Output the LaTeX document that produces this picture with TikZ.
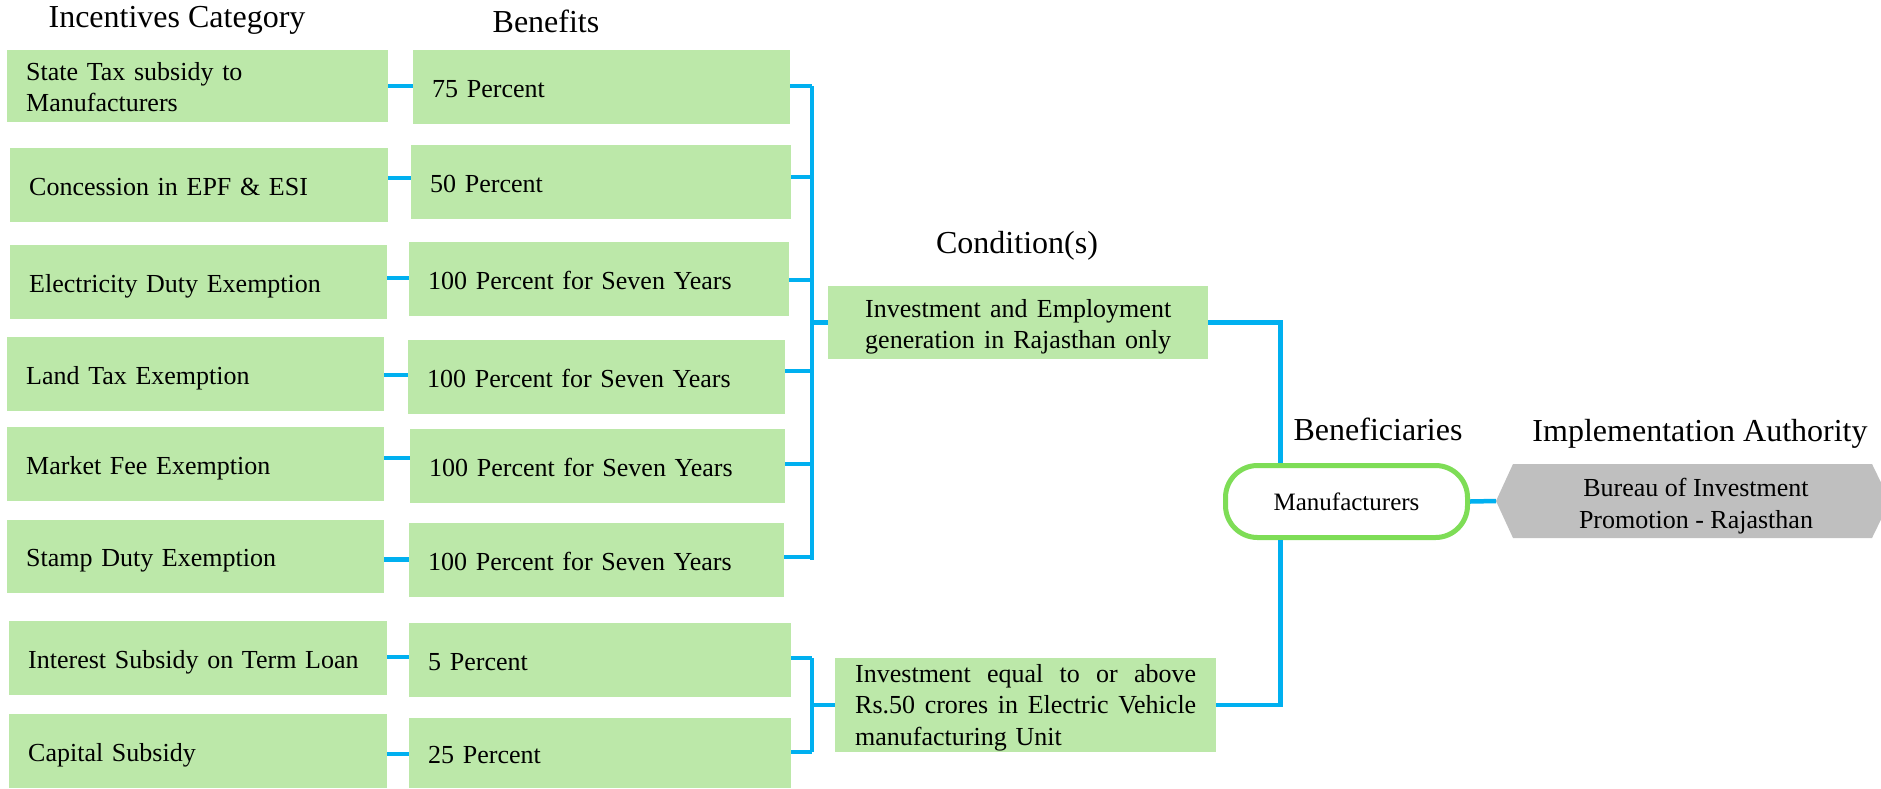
\documentclass[tikz,border=0pt]{standalone}
\usepackage{fontspec}
\setmainfont{Liberation Serif}
\definecolor{boxg}{RGB}{188,232,169}
\definecolor{lnk}{RGB}{0,176,240}
\definecolor{mgreen}{RGB}{126,221,86}
\definecolor{hexg}{RGB}{191,191,191}
\newcommand{\jline}[2]{\leavevmode\hbox to #1{#2}}
\begin{document}
\begin{tikzpicture}[x=1pt,y=-1pt,
  box/.style={fill=boxg, anchor=north west, inner xsep=19pt, inner ysep=0pt, align=left,
    font=\fontsize{26}{31.7}\selectfont},
  one/.style={text height=21pt, text depth=1pt},
  ttl/.style={anchor=base, font=\fontsize{32}{38}\selectfont},
  lk/.style={draw=lnk, line width=4.5pt}]
\useasboundingbox (0,0) rectangle (1881,788);
% titles
\node[ttl] (t1) at (177,27) {Incentives Category};
\node[ttl] (t2) at (546,32) {Benefits};
\node[ttl] (t3) at (1017,253) {Condition(s)};
\node[ttl] (t4) at (1378,440) {Beneficiaries};
\node[ttl] (t5) at (1700,441) {Implementation Authority};
% column 1
\node[box, text height=20pt, text depth=32pt, minimum width=381pt, minimum height=72pt, text width=343pt] (a1) at (7,50) {State Tax subsidy to\\Manufacturers};
\node[box, one, minimum width=378pt, minimum height=74pt, text width=340pt] (a2) at (10,148) {Concession in EPF \& ESI};
\node[box, one, minimum width=377pt, minimum height=74pt, text width=339pt] (a3) at (10,245) {Electricity Duty Exemption};
\node[box, one, minimum width=377pt, minimum height=74pt, text width=339pt] (a4) at (7,337) {Land Tax Exemption};
\node[box, one, minimum width=377pt, minimum height=74pt, text width=339pt] (a5) at (7,427) {Market Fee Exemption};
\node[box, one, minimum width=377pt, minimum height=73pt, text width=339pt] (a6) at (7,520) {Stamp Duty Exemption};
\node[box, one, minimum width=378pt, minimum height=74pt, text width=340pt] (a7) at (9,621) {Interest Subsidy on Term Loan};
\node[box, one, minimum width=378pt, minimum height=74pt, text width=340pt] (a8) at (9,714) {Capital Subsidy};
% column 2
\node[box, one, minimum width=377pt, minimum height=74pt, text width=339pt] (b1) at (413,50) {75 Percent};
\node[box, one, minimum width=380pt, minimum height=74pt, text width=342pt] (b2) at (411,145) {50 Percent};
\node[box, one, minimum width=380pt, minimum height=74pt, text width=342pt] (b3) at (409,242) {100 Percent for Seven Years};
\node[box, one, minimum width=377pt, minimum height=74pt, text width=339pt] (b4) at (408,340) {100 Percent for Seven Years};
\node[box, one, minimum width=375pt, minimum height=74pt, text width=337pt] (b5) at (410,429) {100 Percent for Seven Years};
\node[box, one, minimum width=375pt, minimum height=74pt, text width=337pt] (b6) at (409,523) {100 Percent for Seven Years};
\node[box, one, minimum width=382pt, minimum height=74pt, text width=344pt] (b7) at (409,623) {5 Percent};
\node[box, one, minimum width=382pt, minimum height=70pt, text width=344pt] (b8) at (409,718) {25 Percent};
% conditions
\node[box, align=center, text height=20pt, text depth=31pt, minimum width=380pt, minimum height=73pt, text width=342pt] (c1) at (828,286)
  {\jline{306pt}{Investment\hfill and\hfill Employment}\\\jline{306pt}{generation\hfill in\hfill Rajasthan\hfill only}};
\node[box, inner xsep=20pt, text height=20pt, text depth=66pt, minimum width=381pt, minimum height=94pt, text width=341pt] (c2) at (835,658)
  {\jline{341pt}{Investment\hfill equal\hfill to\hfill or\hfill above}\\\jline{341pt}{Rs.50\hfill crores\hfill in\hfill Electric\hfill Vehicle}\\manufacturing Unit};
% beneficiaries
\node[draw=mgreen, line width=5pt, fill=white, rounded corners=32pt, minimum width=242pt, minimum height=72pt,
  font=\fontsize{25}{30}\selectfont] (m) at (1346.5,501.5) {Manufacturers};
% authority hexagon
\fill[hexg] (1496,501) -- (1513,464) -- (1872,464) -- (1890,501) -- (1872,538) -- (1513,538) -- cycle;
\coordinate (bt) at (1496,501);
\node[align=center, font=\fontsize{26}{31.7}\selectfont] (h) at (1696,506) {Bureau of Investment\\Promotion - Rajasthan};
% bracket coordinates
\coordinate (k1t) at (812,86);
\coordinate (k1b) at (812,560);
\coordinate (k2t) at (812,658);
\coordinate (k2b) at (812,752);
% links col1 -> col2
\foreach \i/\d in {1/0,2/7,3/4,4/-1,5/6,6/-3,7/1,8/-3}{
  \draw[lk] ([yshift=\d pt]a\i.east) -- ([yshift=\d pt]a\i.east -| b\i.west);
}
% links col2 -> brackets
\foreach \i/\d in {1/1,2/5,3/-1,4/6,5/2,6/3}{
  \draw[lk] ([yshift=\d pt]b\i.east) -- ([yshift=\d pt]b\i.east -| k1t);
}
\foreach \i/\d in {7/2,8/1}{
  \draw[lk] ([yshift=\d pt]b\i.east) -- ([yshift=\d pt]b\i.east -| k2t);
}
\draw[lk] (k1t) -- (k1b);
\draw[lk] (k2t) -- (k2b);
\draw[lk] (c1.west) -- (c1.west -| k1t);
\draw[lk] (c2.west) -- (c2.west -| k2t);
% to beneficiaries
\draw[lk] (c1.east) -| ([xshift=-66pt]m.north);
\draw[lk] (c2.east) -| ([xshift=-66pt]m.south);
\draw[lk] (m.east) -- (bt);
\end{tikzpicture}
\end{document}
